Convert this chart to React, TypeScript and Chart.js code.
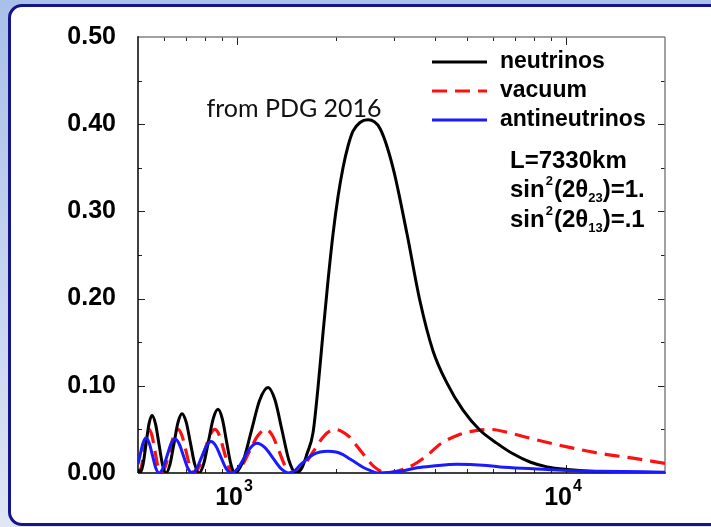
import React, { useEffect, useRef } from 'react';
import { Chart, registerables } from 'chart.js';

Chart.register(...registerables);

// ---- data (energy in MeV, oscillation probability) ----
const neutrinoE = [500, 507, 517.8, 528.8, 540, 551.5, 565.2, 579.2, 593.5, 608.3, 625.5, 643.3, 661.6, 680.3, 700.9, 722.1, 743.9, 766.3, 792.2, 819, 846.7, 875.3, 901.7, 929, 957, 986, 1044.6, 1106.6, 1172.4, 1242.2, 1304.5, 1370, 1438.8, 1511, 1575.4, 1632, 1702, 1762.6, 1825, 1890, 1958, 2028, 2100, 2175, 2252, 2365, 2501, 2720, 2980, 3287, 3600, 3943, 4348, 4864, 5479, 6171, 6902, 7773, 8758, 10075, 12690, 20000];
const neutrinoP = [0.0044, 0, 0.0096, 0.033, 0.0564, 0.066, 0.0564, 0.033, 0.0096, 0, 0.0099, 0.034, 0.058, 0.068, 0.058, 0.034, 0.0099, 0, 0.0107, 0.0365, 0.0623, 0.073, 0.0623, 0.0365, 0.0107, 0, 0.0143, 0.049, 0.0837, 0.098, 0.0837, 0.049, 0.0143, 0, 0.006, 0.022, 0.046, 0.098, 0.16, 0.22, 0.274, 0.317, 0.35, 0.375, 0.392, 0.402, 0.405, 0.395, 0.35, 0.274, 0.197, 0.14, 0.103, 0.072, 0.049, 0.034, 0.022, 0.0126, 0.007, 0.004, 0.0015, 0.0005];

const vacuumE = [500, 503.5, 512.4, 521.4, 530.6, 540, 551.5, 563.2, 575.1, 587.3, 605.1, 623.3, 642.2, 661.6, 680.3, 699.7, 719.5, 740, 767.7, 796.4, 826.2, 857.1, 884.7, 913.1, 942.3, 972.5, 1030, 1091.3, 1156.3, 1225, 1281.9, 1341.6, 1404.1, 1469.4, 1583.7, 1708, 1841, 1985, 2175, 2382, 2609, 2857, 3129, 3427, 3780, 4140, 4664, 5216, 5876, 6902, 7937, 10075, 12690, 15991, 20000];
const vacuumP = [0.0006, 0, 0.0073, 0.025, 0.0427, 0.05, 0.0427, 0.025, 0.0073, 0, 0.0073, 0.025, 0.0427, 0.05, 0.0427, 0.025, 0.0073, 0, 0.0073, 0.025, 0.0427, 0.05, 0.0427, 0.025, 0.0073, 0, 0.0073, 0.025, 0.0427, 0.05, 0.0427, 0.025, 0.0073, 0, 0.0073, 0.025, 0.0427, 0.05, 0.0427, 0.025, 0.0073, 0, 0.003, 0.009, 0.02, 0.033, 0.043, 0.048, 0.05, 0.045, 0.039, 0.03, 0.0225, 0.017, 0.011];

const antiE = [500, 507, 517.8, 528.8, 541, 553.4, 566.2, 579.2, 595.6, 612.5, 629.9, 647.8, 667.3, 687.5, 708.3, 729.7, 754.4, 780, 806.4, 833.6, 863.2, 893.9, 925.7, 958.6, 1003.4, 1050, 1098.9, 1150, 1216.3, 1286.4, 1360.5, 1439, 1500.6, 1554, 1632, 1702, 1787.5, 1890, 1999, 2100, 2205, 2316, 2432, 2537, 2683, 3129, 3525, 3943, 4664, 5595, 6302, 7937, 10075, 12690, 20000];
const antiP = [0.01, 0.02, 0.034, 0.04, 0.0342, 0.02, 0.0058, 0, 0.0057, 0.0195, 0.0333, 0.039, 0.0333, 0.0195, 0.0057, 0, 0.0053, 0.018, 0.0307, 0.036, 0.0307, 0.018, 0.0053, 0, 0.005, 0.017, 0.029, 0.034, 0.029, 0.017, 0.005, 0, 0.003, 0.009, 0.016, 0.021, 0.024, 0.025, 0.024, 0.021, 0.016, 0.011, 0.006, 0.003, 0, 0.002, 0.006, 0.008, 0.01, 0.009, 0.007, 0.005, 0.003, 0.002, 0.001];

const seriesLabels = ['neutrinos', 'vacuum', 'antineutrinos'];
const xTickValues = [500, 600, 700, 800, 900, 1000, 2000, 3000, 4000, 5000, 6000, 7000, 8000, 9000, 10000, 20000];
const xLabelValues = [1000, 10000];
const xLabelBase = ['10', '10'];
const xLabelExp = ['3', '4'];
const yMin = 0;
const yMax = 0.5;
const yStep = 0.05;
const noteText = 'from PDG 2016';
const annotationLines = [
  [{ t: 'L=7330km' }],
  [{ t: 'sin' }, { t: '2', sup: true }, { t: '(2\u03b8' }, { t: '23', sub: true }, { t: ')=1.' }],
  [{ t: 'sin' }, { t: '2', sup: true }, { t: '(2\u03b8' }, { t: '13', sub: true }, { t: ')=.1' }],
];

const toPts = (xs: number[], ys: number[]) => xs.map((x, i) => ({ x, y: ys[i] }));
const isDecade = (v: number) => Math.abs(Math.log10(v) - Math.round(Math.log10(v))) < 1e-9;
const isMajorY = (v: number) => Math.abs(v * 10 - Math.round(v * 10)) < 1e-6;

const BOLD = '"Liberation Sans", Arial, Helvetica, sans-serif';

const decorPlugin = {
  id: 'decor',
  beforeDatasetsDraw(chart: any) {
    const { ctx, chartArea, scales } = chart;
    const { left, right, top, bottom } = chartArea;
    const x = scales.x;
    const y = scales.y;
    ctx.save();
    ctx.lineWidth = 1;
    ctx.strokeStyle = '#222';
    const seg = (a: number, b: number, c: number, d: number) => {
      ctx.beginPath();
      ctx.moveTo(a, b);
      ctx.lineTo(c, d);
      ctx.stroke();
    };
    for (const v of xTickValues) {
      const px = Math.round(x.getPixelForValue(v)) + 0.5;
      if (px <= left + 1 || px >= right - 1) continue;
      const len = isDecade(v) ? 8 : 4;
      seg(px, bottom, px, bottom - len);
      seg(px, top, px, top + len);
    }
    for (const t of y.ticks) {
      const py = Math.round(y.getPixelForValue(t.value)) + 0.5;
      if (py <= top + 1 || py >= bottom - 1) continue;
      const len = isMajorY(t.value) ? 7 : 4;
      seg(left, py, left + len, py);
      seg(right, py, right - len, py);
    }
    ctx.lineWidth = 1.5;
    ctx.strokeStyle = '#808080';
    seg(left, top, right, top);
    seg(right, top, right, bottom);
    ctx.strokeStyle = '#000';
    seg(left, top - 0.75, left, bottom);
    seg(left, bottom, right + 0.75, bottom);
    ctx.restore();
  },
  afterDraw(chart: any) {
    const { ctx, scales, chartArea } = chart;
    const x = scales.x;
    ctx.save();
    ctx.fillStyle = '#000';
    xLabelValues.forEach((v, i) => {
      const px = x.getPixelForValue(v);
      ctx.font = `bold 25px ${BOLD}`;
      ctx.textAlign = 'right';
      ctx.textBaseline = 'alphabetic';
      ctx.fillText(xLabelBase[i], px + 6, chartArea.bottom + 32);
      ctx.font = `bold 16px ${BOLD}`;
      ctx.textAlign = 'left';
      ctx.fillText(xLabelExp[i], px + 7, chartArea.bottom + 18);
    });
    const legendY = [62, 91, 120];
    chart.data.datasets.forEach((ds: any, i: number) => {
      const ly = legendY[i];
      ctx.strokeStyle = ds.borderColor;
      ctx.lineWidth = 3;
      ctx.setLineDash(ds.borderDash || []);
      ctx.beginPath();
      ctx.moveTo(432, ly);
      ctx.lineTo(487, ly);
      ctx.stroke();
      ctx.setLineDash([]);
      ctx.font = `bold 23px ${BOLD}`;
      ctx.textAlign = 'left';
      ctx.textBaseline = 'middle';
      ctx.fillText(ds.label, 500, ly);
    });
    const baselines = [168, 197, 227];
    ctx.textBaseline = 'alphabetic';
    annotationLines.forEach((line, i) => {
      let cx = 510;
      const by = baselines[i];
      line.forEach((s: any) => {
        if (s.sup) {
          ctx.font = `bold 13px ${BOLD}`;
          ctx.fillText(s.t, cx + 1, by - 12);
          cx += ctx.measureText(s.t).width + 2;
        } else if (s.sub) {
          ctx.font = `bold 13px ${BOLD}`;
          ctx.fillText(s.t, cx, by + 5);
          cx += ctx.measureText(s.t).width;
        } else {
          ctx.font = `bold 24px ${BOLD}`;
          ctx.fillText(s.t, cx, by);
          cx += ctx.measureText(s.t).width;
        }
      });
    });
    ctx.font = '25px Lato, "DejaVu Sans", sans-serif';
    ctx.textAlign = 'center';
    ctx.fillStyle = '#111';
    ctx.fillText(noteText, 294, 117);
    ctx.restore();
  },
};

export default function App() {
  const ref = useRef<HTMLCanvasElement>(null);
  useEffect(() => {
    if (!ref.current) return;
    const chart = new Chart(ref.current, {
      type: 'line',
      data: {
        datasets: [
          {
            label: seriesLabels[0],
            data: toPts(neutrinoE, neutrinoP),
            borderColor: '#000000',
            borderWidth: 3,
            pointRadius: 0,
            cubicInterpolationMode: 'monotone',
            order: 1,
          },
          {
            label: seriesLabels[1],
            data: toPts(vacuumE, vacuumP),
            borderColor: '#ff1010',
            borderWidth: 3.2,
            borderDash: [15, 8],
            pointRadius: 0,
            cubicInterpolationMode: 'monotone',
            order: 2,
          },
          {
            label: seriesLabels[2],
            data: toPts(antiE, antiP),
            borderColor: '#1a1aff',
            borderWidth: 3,
            pointRadius: 0,
            cubicInterpolationMode: 'monotone',
            order: 0,
          },
        ],
      } as any,
      options: {
        animation: false,
        responsive: false,
        maintainAspectRatio: false,
        devicePixelRatio: 1,
        layout: { padding: { top: 35, right: 46, left: 0, bottom: 0 } },
        plugins: { legend: { display: false }, tooltip: { enabled: false } },
        scales: {
          x: {
            type: 'logarithmic',
            min: 500,
            max: 20000,
            grid: { display: false, drawTicks: false },
            border: { display: false },
            ticks: { display: false },
            afterFit: (s: any) => {
              s.height = 54;
            },
          },
          y: {
            type: 'linear',
            min: yMin,
            max: yMax,
            grid: { display: false, drawTicks: false },
            border: { display: false },
            ticks: {
              stepSize: yStep,
              autoSkip: false,
              padding: 22,
              color: '#000',
              font: { family: BOLD, weight: 'bold', size: 25 },
              callback: (v: any) => (isMajorY(Number(v)) ? Number(v).toFixed(2) : ''),
            },
            afterFit: (s: any) => {
              s.width = 138;
            },
          },
        },
      } as any,
      plugins: [decorPlugin],
    });
    return () => chart.destroy();
  }, []);

  return (
    <div
      style={{
        position: 'fixed',
        left: 0,
        top: 0,
        width: 711,
        height: 527,
        overflow: 'hidden',
        background: 'linear-gradient(to bottom, #a9c0e8, #dfe6f5)',
      }}
    >
      <div
        style={{
          position: 'absolute',
          left: 8,
          top: 4,
          width: 780,
          height: 522,
          boxSizing: 'border-box',
          border: '3px solid #14148c',
          borderRadius: 14,
          background: '#ffffff',
        }}
      />
      <canvas
        ref={ref}
        width={711}
        height={527}
        style={{ position: 'absolute', left: 0, top: 0, width: 711, height: 527 }}
      />
    </div>
  );
}
